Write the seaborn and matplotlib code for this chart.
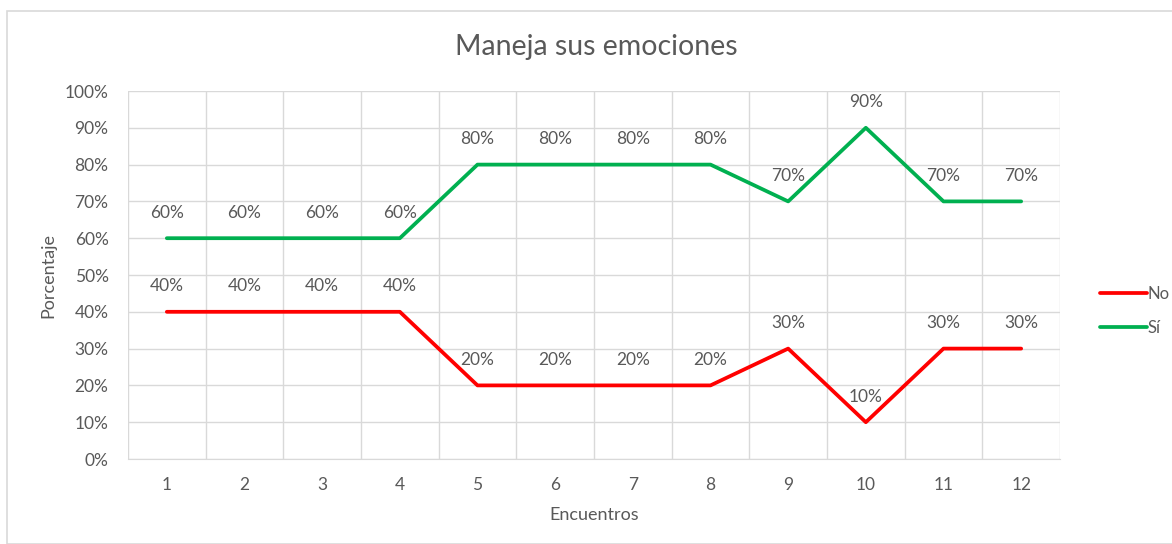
import matplotlib.pyplot as plt
import matplotlib.patches as mpatches
import seaborn as sns
import numpy as np
import pandas as pd

encuentros = ['1', '2', '3', '4', '5', '6', '7', '8', '9', '10', '11', '12']
no_vals = [40, 40, 40, 40, 20, 20, 20, 20, 30, 10, 30, 30]
si_vals = [60, 60, 60, 60, 80, 80, 80, 80, 70, 90, 70, 70]
series = ['No', 'Sí']
colors = {'No': '#FF0000', 'Sí': '#00B050'}
txt = '#595959'
grid = '#D9D9D9'

sns.set_style('white')
plt.rcParams['font.family'] = ['Lato', 'DejaVu Sans']

df = pd.DataFrame({
    'pos': list(range(len(encuentros))) * 2,
    'valor': no_vals + si_vals,
    'serie': ['No'] * len(no_vals) + ['Sí'] * len(si_vals),
})

fig = plt.figure(figsize=(11.72, 5.44), dpi=100)
ax = fig.add_axes([128 / 1172, 1 - 459 / 544, (1060 - 128) / 1172, (459 - 91) / 544])

# marco del grafico
fig.patches.append(mpatches.Rectangle((7 / 1172, 0), 1.0, 1 - 11 / 544, transform=fig.transFigure,
                                      fill=False, edgecolor=grid, linewidth=1.2))

sns.lineplot(data=df, x='pos', y='valor', hue='serie', palette=colors, hue_order=series,
             linewidth=2.7, ax=ax, legend=False)
for line in ax.get_lines():
    line.set_solid_capstyle('round')
    line.set_solid_joinstyle('round')

ax.set_xlim(-0.5, len(encuentros) - 0.5)
ax.set_ylim(0, 100)
ax.set_yticks(np.arange(0, 101, 10))
ax.set_yticklabels([f'{v}%' for v in range(0, 101, 10)], color=txt, fontsize=12.5)
ax.set_xticks(range(len(encuentros)))
ax.set_xticklabels(encuentros, color=txt, fontsize=12.5)
ax.set_xticks(np.arange(-0.5, len(encuentros), 1), minor=True)
ax.tick_params(axis='y', which='both', length=0, pad=14)
ax.tick_params(axis='x', which='both', length=0, pad=13)
ax.grid(True, axis='y', which='major', color=grid, linewidth=1)
ax.grid(True, axis='x', which='minor', color=grid, linewidth=1)
ax.grid(False, axis='x', which='major')
ax.set_axisbelow(True)
for s in ax.spines.values():
    s.set_visible(False)
ax.spines['bottom'].set_visible(True)
ax.spines['bottom'].set_color(grid)

for vals in (no_vals, si_vals):
    for i, v in enumerate(vals):
        ax.annotate(f'{v}%', (i, v), xytext=(0, 18.5), textcoords='offset points',
                    ha='center', va='center', color=txt, fontsize=12.5)

ax.set_xlabel('Encuentros', color=txt, fontsize=13, labelpad=10)
ax.set_ylabel('Porcentaje', color=txt, fontsize=13, labelpad=6)
fig.text(596 / 1172, 1 - 47 / 544, 'Maneja sus emociones', ha='center', va='center',
         color=txt, fontsize=20.5)

handles = [plt.Line2D([], [], color=colors[s], linewidth=2.7, solid_capstyle='round') for s in series]
leg = fig.legend(handles, series, loc='center left', bbox_to_anchor=(1085 / 1172, 1 - 311 / 544),
                 frameon=False, fontsize=12, handlelength=2.8, handletextpad=0.05, labelspacing=1.1)
for t in leg.get_texts():
    t.set_color(txt)

fig.savefig('out.png', dpi=100)
